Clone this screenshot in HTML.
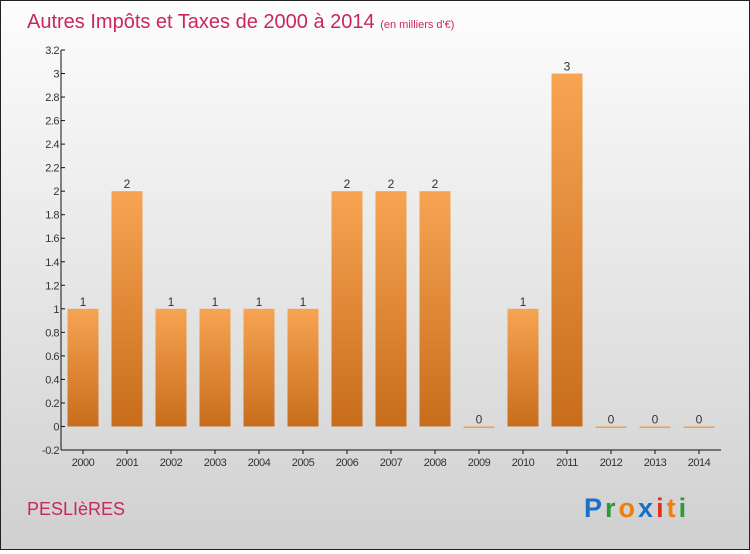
<!DOCTYPE html>
<html><head><meta charset="utf-8"><style>
html,body{margin:0;padding:0}
body{width:750px;height:550px;overflow:hidden;font-family:"Liberation Sans",sans-serif}
#wrap{position:absolute;left:0;top:0;width:748px;height:548px;border:1px solid #222;background:linear-gradient(#fdfdfd,#d0d0d0)}
</style></head><body>
<div id="wrap">
<svg id="chart" width="748" height="548">
<defs><linearGradient id="bg" x1="0" y1="0" x2="0" y2="1"><stop offset="0" stop-color="#f7a453"/><stop offset="1" stop-color="#c76d1c"/></linearGradient></defs>
<text x="26" y="27" font-size="20" fill="#c8285a">Autres Impôts et Taxes de 2000 à 2014 <tspan font-size="11">(en milliers d'€)</tspan></text>
<text x="26" y="514" font-size="18" fill="#c8285a">PESLIèRES</text>
<g font-size="27" font-weight="bold" letter-spacing="3"><text x="583" y="516"><tspan fill="#1a6fc9">P</tspan><tspan fill="#2a9a3a">r</tspan><tspan fill="#f07d10">o</tspan><tspan fill="#1a6fc9">x</tspan><tspan fill="#e2301a">i</tspan><tspan fill="#f07d10">t</tspan><tspan fill="#2a9a3a">i</tspan></text></g>
<g id="axes"></g><g id="bars"></g>
</svg></div>
<script>
const years=["2000","2001","2002","2003","2004","2005","2006","2007","2008","2009","2010","2011","2012","2013","2014"];
const values=[1,2,1,1,1,1,2,2,2,0,1,3,0,0,0];
const yTicks=[-0.2,0,0.2,0.4,0.6,0.8,1,1.2,1.4,1.6,1.8,2,2.2,2.4,2.6,2.8,3,3.2];
const NS="http://www.w3.org/2000/svg";
const x0=60,band=44,yMin=-0.2,yMax=3.2,py0=449,py1=49;
const y=v=>py0-(v-yMin)/(yMax-yMin)*(py0-py1);
const xc=i=>x0+band*(i+0.5);
function mk(t,a,p){const e=document.createElementNS(NS,t);for(const k in a)e.setAttribute(k,a[k]);p.appendChild(e);return e;}
const ax=document.getElementById('axes'),bs=document.getElementById('bars');
const yl=mk('line',{x1:x0,y1:py1,x2:x0,y2:py0,stroke:'#111'},ax);


const xl=mk('line',{x1:x0,y1:py0,x2:x0+band*years.length,y2:py0,stroke:'#111'},ax);


yTicks.forEach(v=>{
 mk('line',{x1:x0,x2:x0+4,y1:y(v),y2:y(v),stroke:'#111'},ax);
 const t=mk('text',{x:x0-2,y:y(v)+4,'font-size':11,fill:'#333','text-anchor':'end','letter-spacing':'-0.5'},ax);
 t.textContent=String(v);
 
 
});
years.forEach((yr,i)=>{
 const cx=xc(i);
 mk('line',{x1:cx,x2:cx,y1:py0,y2:py0+4,stroke:'#111'},ax);
 const t=mk('text',{x:cx,y:py0+16,'font-size':11,fill:'#333','text-anchor':'middle','letter-spacing':'-0.5'},ax);
 t.textContent=yr;
 
 
 const v=values[i],top=y(Math.max(v,0)),bot=y(0);
 const r=mk('rect',{x:cx-15.5,y:top,width:31,height:Math.max(bot-top,1.5),fill:v>0?'url(#bg)':'#f0a050'},bs);
 
 
 const l=mk('text',{x:cx,y:top-3,'font-size':12,fill:'#333','text-anchor':'middle'},bs);
 l.textContent=String(v);
 
 
});
</script>
</body></html>
